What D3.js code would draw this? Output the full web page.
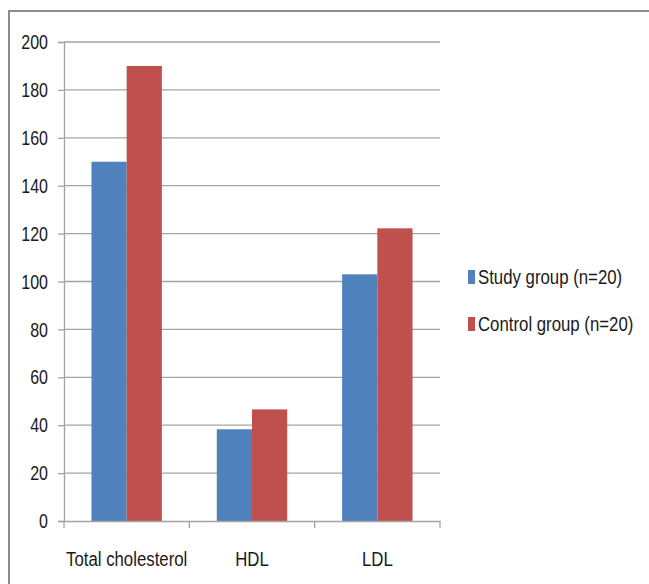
<!DOCTYPE html>
<html>
<head>
<meta charset="utf-8">
<script src="https://cdn.jsdelivr.net/npm/d3@7"></script>
<style>
  html, body { margin: 0; padding: 0; background: #fff; }
  svg { display: block; }
  text { font-family: "Liberation Sans", Arial, sans-serif; fill: #1a1a1a; }
</style>
</head>
<body>
<svg id="chart"></svg>
<script>
const categories = ["Total cholesterol", "HDL", "LDL"];
const seriesNames = ["Study group (n=20)", "Control group (n=20)"];
const studyValues = [150, 38.3, 103];
const controlValues = [190, 46.6, 122.2];
const yTicks = [0, 20, 40, 60, 80, 100, 120, 140, 160, 180, 200];

const W = 649, H = 584;
const colors = ["#4f81bd", "#c0504d"];
const gridColor = "#a3a3a3";
const SX = 0.8; // narrow text, like the squeezed original

const svg = d3.select("#chart").attr("width", W).attr("height", H);

// outer frame: top and left edges only are visible
svg.append("path")
  .attr("d", `M9,${H} L9,11 L${W},11`)
  .attr("fill", "none")
  .attr("stroke", "#8c8c8c")
  .attr("stroke-width", 2);

const x = d3.scaleBand().domain(categories).range([64, 440]).paddingInner(0).paddingOuter(0);
const xSub = d3.scaleBand().domain(seriesNames).range([0, x.bandwidth()]).paddingInner(0).paddingOuter(0.78);
const y = d3.scaleLinear().domain([0, 200]).range([521, 42]);

// gridlines
svg.append("g")
  .selectAll("line")
  .data(yTicks.filter(d => d > 0))
  .join("line")
  .attr("x1", 64).attr("x2", 440)
  .attr("y1", d => y(d)).attr("y2", d => y(d))
  .attr("stroke", gridColor)
  .attr("stroke-width", 1.3);

// bars
const rows = categories.map((c, i) => ({ cat: c, vals: [studyValues[i], controlValues[i]] }));
svg.append("g")
  .selectAll("g")
  .data(rows)
  .join("g")
  .attr("transform", d => `translate(${x(d.cat)},0)`)
  .selectAll("rect")
  .data(d => d.vals.map((v, j) => ({ name: seriesNames[j], v, j })))
  .join("rect")
  .attr("x", d => xSub(d.name))
  .attr("width", xSub.bandwidth())
  .attr("y", d => y(d.v))
  .attr("height", d => y(0) - y(d.v))
  .attr("fill", d => colors[d.j]);

// y axis
const yAxis = svg.append("g")
  .attr("transform", "translate(64,0)")
  .call(d3.axisLeft(y).tickValues(yTicks).tickSize(6).tickPadding(0).tickFormat(d3.format("d")));
yAxis.select(".domain").attr("stroke", gridColor).attr("stroke-width", 1.3);
yAxis.selectAll(".tick line").attr("stroke", gridColor).attr("stroke-width", 1.3);
yAxis.selectAll(".tick text")
  .attr("x", null).attr("dy", null)
  .attr("font-size", 20)
  .attr("text-anchor", "end")
  .attr("dominant-baseline", "central")
  .attr("transform", `translate(-16,0) scale(${SX},1)`)
  .attr("fill", "#1a1a1a");

// x axis
const xAxis = svg.append("g")
  .attr("transform", `translate(0,${y(0)})`)
  .call(d3.axisBottom(x).tickSize(0).tickFormat(""));
xAxis.select(".domain").attr("stroke", gridColor).attr("stroke-width", 1.3);
xAxis.selectAll(".tick").remove();
const bounds = [64, ...categories.map(c => x(c) + x.bandwidth())];
xAxis.selectAll("line.sep")
  .data(bounds)
  .join("line")
  .attr("class", "sep")
  .attr("x1", d => d).attr("x2", d => d)
  .attr("y1", 0).attr("y2", 7)
  .attr("stroke", gridColor)
  .attr("stroke-width", 1.3);

svg.append("g")
  .selectAll("text")
  .data(categories)
  .join("text")
  .attr("transform", d => `translate(${x(d) + x.bandwidth() / 2},566) scale(${SX},1)`)
  .attr("text-anchor", "middle")
  .attr("font-size", 21)
  .text(d => d);

// legend
const legend = svg.append("g")
  .selectAll("g")
  .data(seriesNames)
  .join("g")
  .attr("transform", (d, i) => `translate(468,${277 + i * 47})`);
legend.append("rect")
  .attr("x", 0).attr("y", -7)
  .attr("width", 7).attr("height", 14)
  .attr("fill", (d, i) => colors[i]);
legend.append("text")
  .attr("transform", `translate(10,0) scale(${SX},1)`)
  .attr("dominant-baseline", "central")
  .attr("font-size", 21)
  .text(d => d);
</script>
</body>
</html>
